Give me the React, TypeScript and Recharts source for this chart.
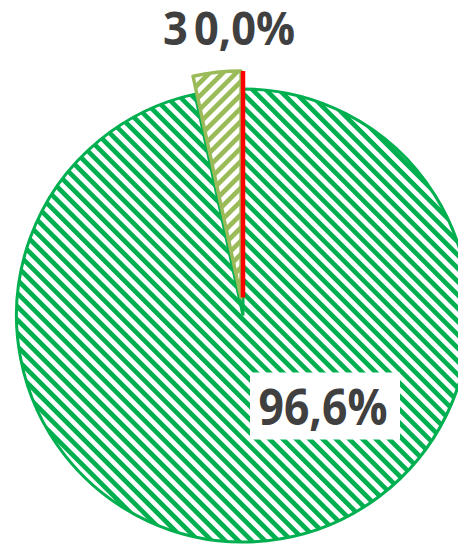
import { Cell, Pie, PieChart, Sector } from "recharts";

const names = ["Серия A", "Серия B", "Серия C"];
const shares = [96.6, 3.4, 0.0];
const exploded = [false, true, true];

const GREEN = "#00B050";
const OLIVE = "#9BBB59";
const RED = "#FF0000";
const TEXT = "#404040";
const RAD = Math.PI / 180;
const EXPLODE = 18;

const data = names.map((name, i) => ({ name, value: shares[i] }));

const fmt = (v: number) => v.toFixed(1).replace(".", ",") + "%";

function polar(cx: number, cy: number, r: number, angle: number) {
  return { x: cx + r * Math.cos(-angle * RAD), y: cy + r * Math.sin(-angle * RAD) };
}

function LabelBox({ x, y, w, h, tx, ty, text, size, len, anchor }: any) {
  return (
    <g>
      <rect x={x} y={y} width={w} height={h} fill="#ffffff" />
      <text
        x={tx}
        y={ty}
        textAnchor={anchor}
        fill={TEXT}
        fontFamily="'Open Sans', 'Liberation Sans', Arial, sans-serif"
        fontWeight="bold"
        fontSize={size}
        textLength={len}
        lengthAdjust="spacingAndGlyphs"
      >
        {text}
      </text>
    </g>
  );
}

// exploded slices + labels are drawn in the label layer so they sit above the big slice
function renderLabel(props: any) {
  const { cx, cy, outerRadius, startAngle, endAngle, midAngle, index, value } = props;
  let slice = null;
  if (exploded[index]) {
    const off = polar(0, 0, EXPLODE, midAngle);
    const ox = cx + off.x;
    const oy = cy + off.y;
    if (Math.abs(endAngle - startAngle) < 0.01) {
      const end = polar(ox, oy, outerRadius, midAngle);
      slice = <path d={`M${ox},${oy}L${end.x},${end.y}`} stroke={RED} strokeWidth={4.5} />;
    } else {
      slice = (
        <Sector
          cx={ox}
          cy={oy}
          innerRadius={0}
          outerRadius={outerRadius}
          startAngle={startAngle}
          endAngle={endAngle}
          fill="url(#hatchOlive)"
          stroke={OLIVE}
          strokeWidth={3.5}
          strokeLinejoin="round"
        />
      );
    }
  }
  let label = null;
  if (index === 0) {
    label = (
      <LabelBox x={cx + 7} y={cy + 57} w={150} h={67} tx={cx + 80} ty={cy + 109} text={fmt(value)} size={50} len={129} anchor="middle" />
    );
  } else if (index === 1) {
    label = (
      <LabelBox x={cx - 86} y={cy - 314} w={110} h={55} tx={cx - 80} ty={cy - 271} text={fmt(value)} size={46} len={101} anchor="start" />
    );
  } else {
    label = (
      <LabelBox x={cx - 56} y={cy - 314} w={114} h={55} tx={cx - 49} ty={cy - 271} text={fmt(value)} size={46} len={101} anchor="start" />
    );
  }
  return (
    <g key={`lbl-${index}`}>
      {slice}
      {label}
    </g>
  );
}

export default function App() {
  return (
    <div style={{ position: "absolute", left: 0, top: 0, width: 458, height: 545, background: "#fff" }}>
      <PieChart width={458} height={545} margin={{ top: 0, right: 0, bottom: 0, left: 0 }}>
        <defs>
          <pattern id="hatchGreen" patternUnits="userSpaceOnUse" width={9.4} height={9.4} patternTransform="rotate(-45)">
            <rect width={9.4} height={9.4} fill="#ffffff" />
            <rect x={0} y={0} width={5} height={9.4} fill={GREEN} shapeRendering="crispEdges" />
          </pattern>
          <pattern id="hatchOlive" patternUnits="userSpaceOnUse" width={9.4} height={9.4} patternTransform="rotate(45)">
            <rect width={9.4} height={9.4} fill="#ffffff" />
            <rect x={0} y={0} width={5} height={9.4} fill={OLIVE} shapeRendering="crispEdges" />
          </pattern>
        </defs>
        <Pie
          data={data}
          dataKey="value"
          nameKey="name"
          cx={243}
          cy={315.5}
          innerRadius={0}
          outerRadius={226.5}
          startAngle={90}
          endAngle={-270}
          label={renderLabel}
          labelLine={false}
          isAnimationActive={false}
        >
          {data.map((d, i) => (
            <Cell
              key={d.name}
              fill={exploded[i] ? "none" : "url(#hatchGreen)"}
              stroke={exploded[i] ? "none" : GREEN}
              strokeWidth={3}
            />
          ))}
        </Pie>
      </PieChart>
    </div>
  );
}
